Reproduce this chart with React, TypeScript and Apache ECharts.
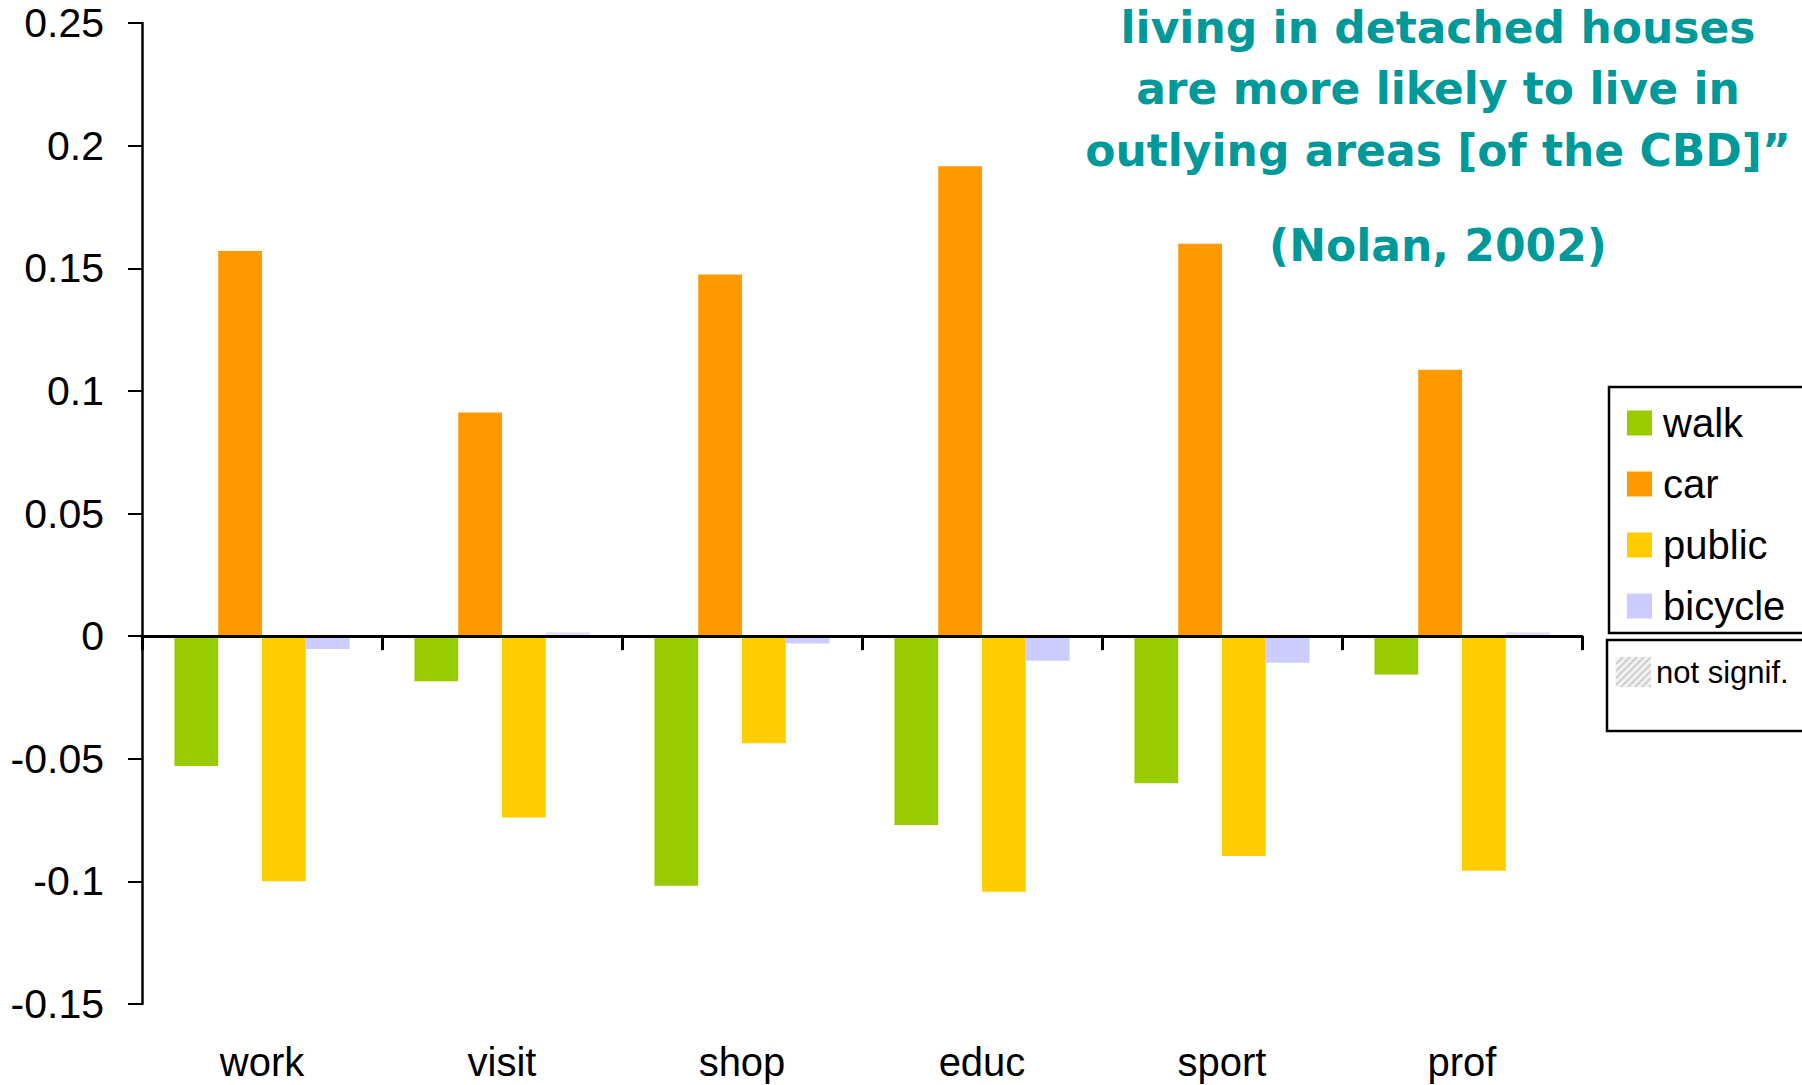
import React, { useEffect, useRef } from "react";
import * as echarts from "echarts";

const categories = ["work", "visit", "shop", "educ", "sport", "prof"];
const walk = [-0.053, -0.0184, -0.1018, -0.077, -0.06, -0.0156];
const car = [0.157, 0.0912, 0.1475, 0.1916, 0.160, 0.1086];
const publicT = [-0.0999, -0.074, -0.0437, -0.1042, -0.0897, -0.0957];
const bicycle = [-0.0052, 0.0016, -0.003, -0.010, -0.0109, 0.0016];
const bicycleNotSignif = [false, true, false, false, false, true];
const yTicks = { min: -0.15, max: 0.25, interval: 0.05 };
const titleLines = [
  "living in detached houses",
  "are more likely to live in",
  "outlying areas [of the CBD]\u201D",
];
const citation = "(Nolan, 2002)";

const COLORS = { walk: "#99CC00", car: "#FF9900", public: "#FFCC00", bicycle: "#CCCCFF" };
const FONT = "'Liberation Sans', Arial, sans-serif";
const TITLE_FONT = "bold 44px 'DejaVu Sans', sans-serif";

function hatchLines(x0: number, y0: number, w: number, h: number, step: number) {
  const out: any[] = [];
  for (let k = -h; k < w; k += step) {
    let xa = x0 + k, ya = y0 + h, xb = x0 + k + h, yb = y0;
    if (xa < x0) { ya -= x0 - xa; xa = x0; }
    if (xb > x0 + w) { yb += xb - (x0 + w); xb = x0 + w; }
    out.push({
      type: "line",
      shape: { x1: xa, y1: ya, x2: xb, y2: yb },
      style: { stroke: "#cfcfcf", lineWidth: 2 },
      silent: true,
    });
  }
  return out;
}

export default function App() {
  const ref = useRef<HTMLDivElement>(null);
  useEffect(() => {
    if (!ref.current) return;
    const chart = echarts.init(ref.current, null, { renderer: "svg" });
    const barBase = { type: "bar", barGap: "0%", barCategoryGap: "27%", xAxisIndex: 0 };
    const option: any = {
      animation: false,
      backgroundColor: "#ffffff",
      grid: { left: 142, top: 23, width: 1440, height: 981 },
      xAxis: [
        {
          type: "category",
          data: categories,
          z: 10,
          axisLine: { show: true, onZero: true, lineStyle: { color: "#000", width: 3 } },
          axisTick: { show: true, length: 14, lineStyle: { color: "#000", width: 3 } },
          axisLabel: { show: false },
          splitLine: { show: false },
        },
        {
          type: "category",
          data: categories,
          position: "bottom",
          axisLine: { show: false, onZero: false },
          axisTick: { show: false },
          splitLine: { show: false },
          axisLabel: { fontSize: 40, color: "#000", fontFamily: FONT, margin: 38 },
        },
      ],
      yAxis: {
        type: "value",
        min: yTicks.min,
        max: yTicks.max,
        interval: yTicks.interval,
        axisLine: { show: true, lineStyle: { color: "#000", width: 2.5 } },
        axisTick: { show: true, length: 14, lineStyle: { color: "#000", width: 2 } },
        splitLine: { show: false },
        axisLabel: {
          fontSize: 41,
          color: "#000",
          fontFamily: FONT,
          margin: 38,
          formatter: (v: number) => String(+v.toFixed(2)),
        },
      },
      legend: {
        orient: "vertical",
        left: 1622,
        top: 398,
        itemWidth: 25,
        itemHeight: 25,
        itemGap: 21,
        icon: "rect",
        selectedMode: false,
        data: ["walk", "car", "public", "bicycle"],
        textStyle: { fontSize: 40, color: "#000", fontFamily: FONT, padding: [0, 0, 0, 6] },
      },
      series: [
        { ...barBase, name: "walk", data: walk, itemStyle: { color: COLORS.walk } },
        { ...barBase, name: "car", data: car, itemStyle: { color: COLORS.car } },
        { ...barBase, name: "public", data: publicT, itemStyle: { color: COLORS.public } },
        {
          ...barBase,
          name: "bicycle",
          itemStyle: { color: COLORS.bicycle },
          data: bicycle.map((v, i) =>
            bicycleNotSignif[i]
              ? { value: v, itemStyle: { color: "rgba(204,204,255,0.6)" } }
              : v
          ),
        },
      ],
      graphic: [
        ...titleLines.map((t, i) => ({
          type: "text",
          x: 1438,
          y: [27, 88, 150][i],
          style: {
            text: t,
            fill: "#009999",
            font: TITLE_FONT,
            align: "center",
            verticalAlign: "middle",
          },
        })),
        {
          type: "text",
          x: 1438,
          y: 245,
          style: {
            text: citation,
            fill: "#009999",
            font: TITLE_FONT,
            align: "center",
            verticalAlign: "middle",
          },
        },
        {
          type: "rect",
          shape: { x: 1609, y: 387, width: 300, height: 246 },
          style: { fill: "none", stroke: "#000", lineWidth: 2.5 },
          z: -1,
        },
        {
          type: "rect",
          shape: { x: 1607, y: 640, width: 300, height: 91 },
          style: { fill: "none", stroke: "#000", lineWidth: 2.5 },
        },
        {
          type: "rect",
          shape: { x: 1616, y: 657, width: 35, height: 30 },
          style: { fill: "#f2f2f2" },
        },
        ...hatchLines(1616, 657, 35, 30, 7),
        {
          type: "text",
          x: 1656,
          y: 672,
          style: {
            text: "not signif.",
            fill: "#000",
            font: `31px ${FONT}`,
            align: "left",
            verticalAlign: "middle",
          },
        },
      ],
    };
    chart.setOption(option);
    return () => chart.dispose();
  }, []);
  return (
    <div
      ref={ref}
      style={{ position: "fixed", left: 0, top: 0, width: 1802, height: 1085, background: "#fff" }}
    />
  );
}
